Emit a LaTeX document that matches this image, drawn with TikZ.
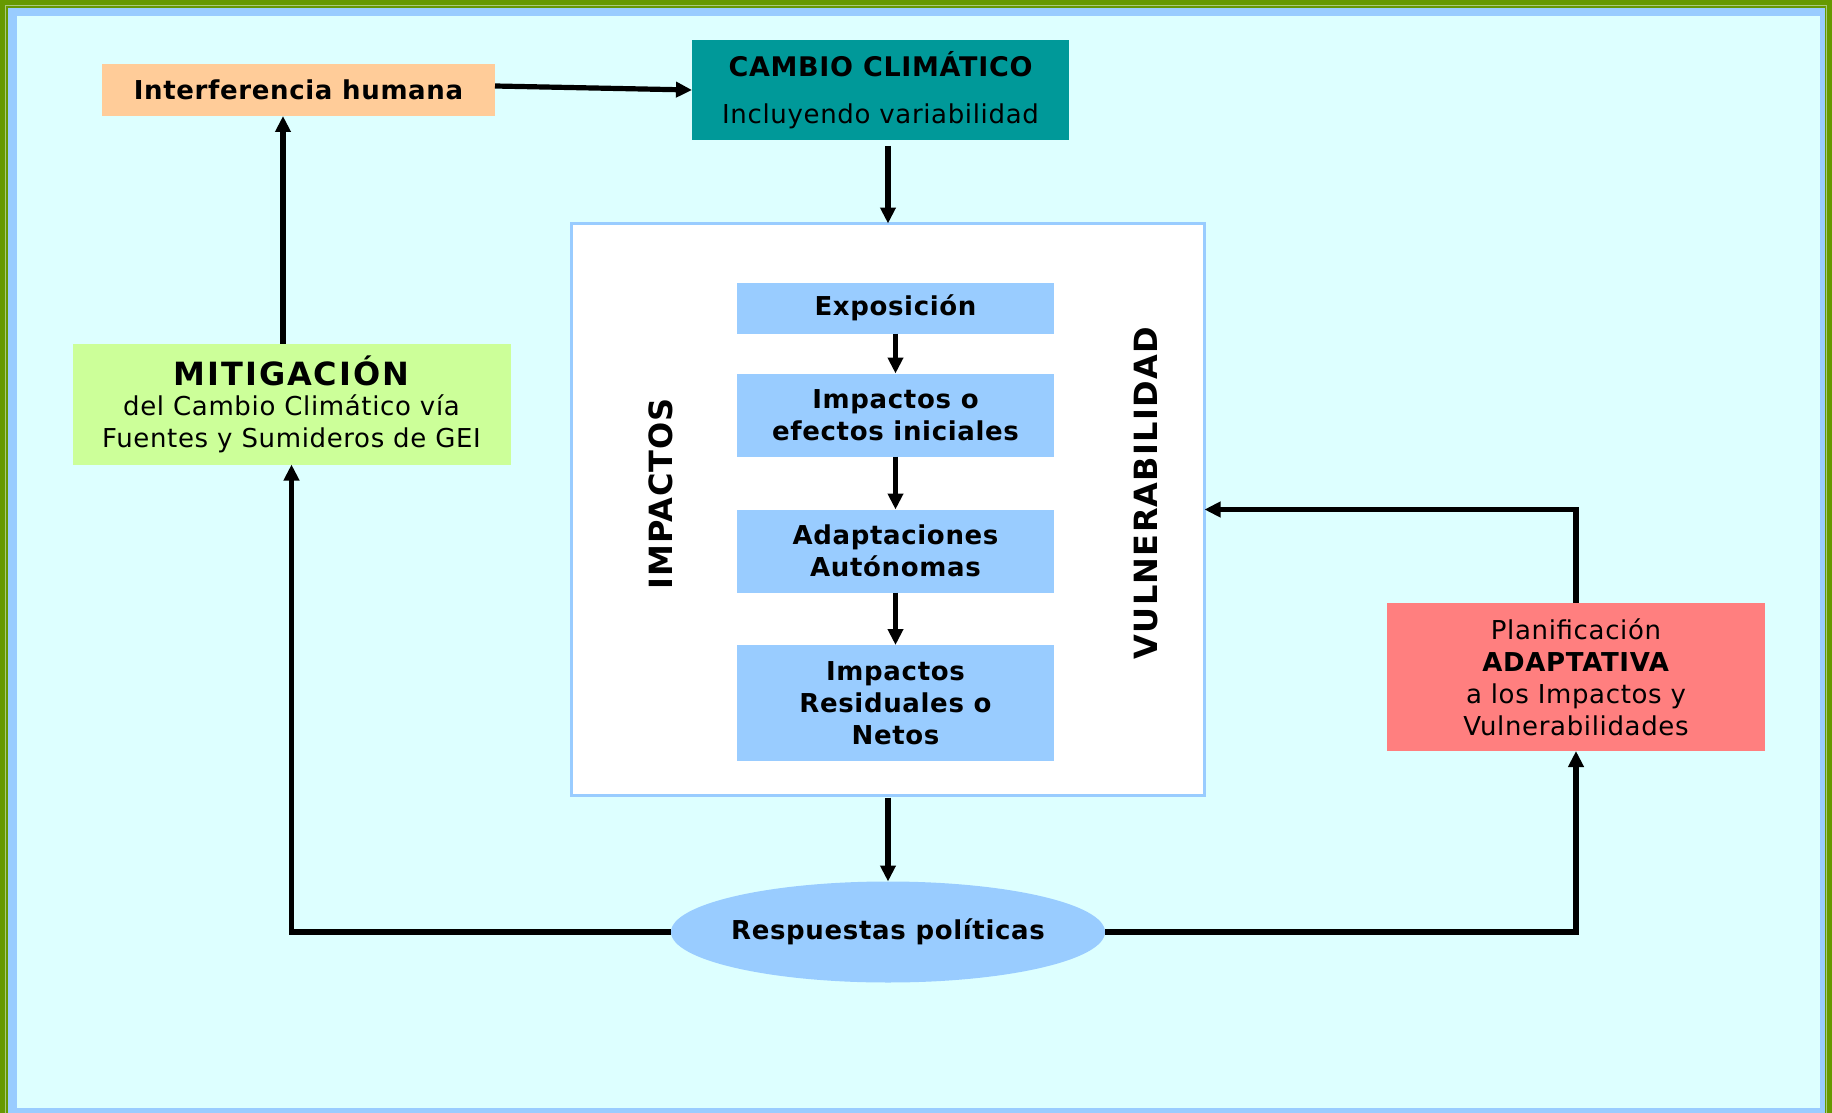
\documentclass[tikz,border=0pt]{standalone}
\usepackage{fontspec}
\setmainfont{DejaVu Sans}[LetterSpace=2.5]
\usetikzlibrary{arrows.meta,shapes.geometric,calc}
\definecolor{frgreen}{HTML}{669900}
\definecolor{frlight}{HTML}{A8C880}
\definecolor{frblue}{HTML}{99CCFF}
\definecolor{bgcyan}{HTML}{DDFFFF}
\definecolor{interfc}{HTML}{FFCC99}
\definecolor{cambioc}{HTML}{009999}
\definecolor{mitigc}{HTML}{CCFF99}
\definecolor{iboxc}{HTML}{99CCFF}
\definecolor{planc}{HTML}{FF7F7F}
\begin{document}
\begin{tikzpicture}[x=1pt,y=-1pt,
  box/.style={inner sep=0pt, outer sep=0pt, align=center, rectangle},
  txt/.style={font=\fontsize{26}{32}\selectfont},
  btxt/.style={font=\bfseries\fontsize{26}{32}\selectfont},
  ibox/.style={box, fill=iboxc, minimum width=317pt, btxt},
  arr/.style={line width=5.2pt, -{Triangle[width=15pt,length=16pt]}}]
\useasboundingbox (0,0) rectangle (1832,1113);
% frame
\fill[frgreen] (0,0) rectangle (1832,1113);
\draw[frlight, line width=1pt] (5.5,5.5) rectangle (1826.5,1120);
\fill[frblue] (8,8) rectangle (1825,1113);
\fill[bgcyan] (16.5,16.5) rectangle (1820,1108);

% nodes
\node[box, fill=interfc, minimum width=393pt, minimum height=52pt, btxt] (interf) at (298.5,90) {Interferencia humana};
\node[box, fill=cambioc, minimum width=377pt, minimum height=100pt, txt] (cambio) at (880.5,90)
  {{\bfseries\fontsize{27}{32}\selectfont CAMBIO CLIMÁTICO}\\[15pt]Incluyendo variabilidad};
\node[box, fill=white, draw=frblue, line width=3pt, minimum width=633pt, minimum height=572pt] (wbox) at (888,509.5) {};

\node[ibox, minimum height=51pt] (expo) at (895.5,308) {Exposición};
\node[ibox, minimum height=83pt] (ini) at (895.5,415) {Impactos o\\efectos iniciales};
\node[ibox, minimum height=83pt] (adap) at (895.5,551) {Adaptaciones\\Autónomas};
\node[ibox, minimum height=116pt] (resid) at (895.5,703) {Impactos\\Residuales o\\Netos};

\node[rotate=90, font=\bfseries\fontsize{32}{36}\selectfont, inner sep=0pt] (limp) at (661,494) {IMPACTOS};
\node[rotate=90, font=\bfseries\fontsize{32}{36}\selectfont\addfontfeature{LetterSpace=4}, inner sep=0pt] (lvul) at (1146,493) {VULNERABILIDAD};

\node[box, fill=mitigc, minimum width=438pt, minimum height=121pt, txt] (mitig) at (291.5,404)
  {{\bfseries\fontsize{32}{36}\selectfont\addfontfeature{LetterSpace=6}MITIGACIÓN}\\[-2pt]del Cambio Climático vía\\Fuentes y Sumideros de GEI};

\node[ellipse, fill=iboxc, minimum width=434pt, minimum height=101pt, inner sep=-12pt, outer sep=0pt, btxt] (resp) at (888,932) {Respuestas políticas};

\node[box, fill=planc, minimum width=378pt, minimum height=148pt, txt] (plan) at (1576,677)
  {Planificación\\\textbf{ADAPTATIVA}\\a los Impactos y\\Vulnerabilidades};

% connectors
\draw[arr] ($(interf.east)+(0,-4)$) -- (cambio.west);
\draw[arr, shorten <=6pt] (wbox.north |- cambio.south) -- (wbox.north);
\draw[arr] (expo) -- (ini);
\draw[arr] (ini) -- (adap);
\draw[arr] (adap) -- (resid);
\draw[arr, shorten <=2pt] (wbox.south) -- (resp.north);
\coordinate (mtop) at ([xshift=-8.5pt]mitig.north);
\draw[arr] (mtop) -- (mtop |- interf.south);
\draw[arr] (resp.west) -| (mitig.south);
\draw[arr] (resp.east) -| (plan.south);
\draw[arr] (plan.north) |- (wbox.east);
\end{tikzpicture}
\end{document}
